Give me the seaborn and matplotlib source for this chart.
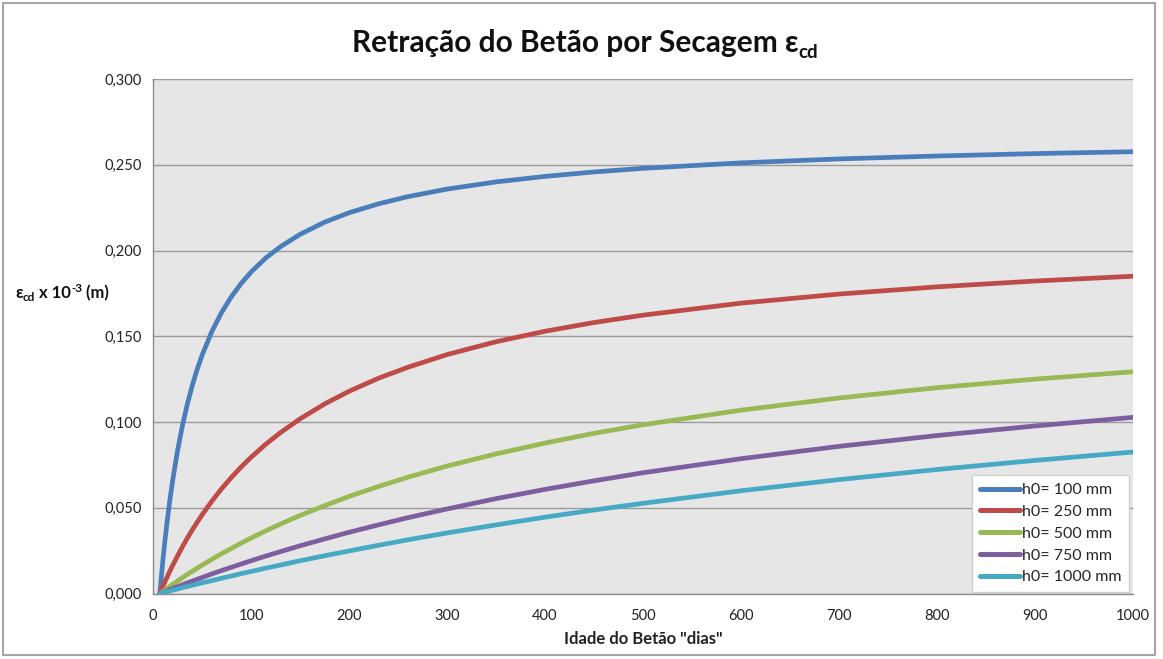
import matplotlib
matplotlib.use("Agg")
import matplotlib.pyplot as plt
import numpy as np
import pandas as pd
import seaborn as sns
from matplotlib.patches import Rectangle
from matplotlib.ticker import FuncFormatter

# ---------------- data ----------------
days = [7, 8, 9, 10, 12, 14, 17, 20, 25, 30, 35, 40, 45, 50, 60, 70, 80, 90,
        100, 115, 130, 150, 175, 200, 230, 260, 300, 350, 400, 450, 500, 600,
        700, 800, 900, 1000]
h0_100 = [0.0, 0.0065, 0.0128, 0.0187, 0.0298, 0.0399, 0.0536, 0.0657, 0.0832,
          0.0978, 0.1104, 0.1211, 0.1306, 0.1388, 0.1527, 0.1639, 0.1731,
          0.1808, 0.1874, 0.1956, 0.2022, 0.2094, 0.2165, 0.2220, 0.2272,
          0.2314, 0.2358, 0.2400, 0.2432, 0.2458, 0.2479, 0.2511, 0.2534,
          0.2551, 0.2565, 0.2576]
h0_250 = [0.0, 0.0013, 0.0027, 0.0040, 0.0066, 0.0091, 0.0128, 0.0163, 0.0219,
          0.0272, 0.0323, 0.0370, 0.0415, 0.0458, 0.0538, 0.0611, 0.0677,
          0.0738, 0.0794, 0.0870, 0.0938, 0.1018, 0.1105, 0.1179, 0.1255,
          0.1319, 0.1393, 0.1468, 0.1529, 0.1580, 0.1623, 0.1693, 0.1746,
          0.1788, 0.1822, 0.1850]
h0_500 = [0.0, 0.0004, 0.0008, 0.0012, 0.0021, 0.0029, 0.0041, 0.0053, 0.0073,
          0.0092, 0.0111, 0.0129, 0.0147, 0.0165, 0.0199, 0.0232, 0.0263,
          0.0294, 0.0323, 0.0365, 0.0405, 0.0455, 0.0512, 0.0566, 0.0624,
          0.0678, 0.0743, 0.0814, 0.0877, 0.0934, 0.0984, 0.1069, 0.1140,
          0.1200, 0.1250, 0.1293]
h0_750 = [0.0, 0.0002, 0.0005, 0.0007, 0.0011, 0.0016, 0.0023, 0.0029, 0.0040,
          0.0051, 0.0062, 0.0072, 0.0083, 0.0093, 0.0114, 0.0134, 0.0153,
          0.0172, 0.0191, 0.0218, 0.0244, 0.0278, 0.0318, 0.0357, 0.0400,
          0.0442, 0.0493, 0.0553, 0.0607, 0.0657, 0.0704, 0.0786, 0.0858,
          0.0921, 0.0977, 0.1027]
h0_1000 = [0.0, 0.0001, 0.0003, 0.0004, 0.0007, 0.0010, 0.0015, 0.0019, 0.0026,
           0.0034, 0.0041, 0.0048, 0.0055, 0.0062, 0.0075, 0.0089, 0.0102,
           0.0116, 0.0128, 0.0148, 0.0166, 0.0191, 0.0220, 0.0248, 0.0281,
           0.0313, 0.0353, 0.0400, 0.0445, 0.0487, 0.0526, 0.0599, 0.0664,
           0.0723, 0.0776, 0.0825]
series_labels = ["h0= 100 mm", "h0= 250 mm", "h0= 500 mm", "h0= 750 mm",
                 "h0= 1000 mm"]
x_ticks = [0, 100, 200, 300, 400, 500, 600, 700, 800, 900, 1000]
y_ticks = [0.0, 0.05, 0.10, 0.15, 0.20, 0.25, 0.30]

title_main = "Retração do Betão por Secagem ε"
title_sub = "cd"
xlabel = 'Idade do Betão "dias"'

colors = ["#4A7EBB", "#BE4B48", "#98B954", "#7D5FA0", "#46AAC5"]

# ---------------- styling ----------------
sns.set_style("white")
plt.rcParams["font.family"] = ["Lato", "DejaVu Sans"]

W, H = 1163, 659
fig = plt.figure(figsize=(W / 100, H / 100), dpi=100)
fig.patch.set_facecolor("white")

ax_l, ax_r, ax_t, ax_b = 153, 1133, 79, 593.5
ax = fig.add_axes([ax_l / W, 1 - ax_b / H, (ax_r - ax_l) / W, (ax_b - ax_t) / H])
ax.set_facecolor("#E6E6E6")

rows = []
for lab, vals in zip(series_labels, [h0_100, h0_250, h0_500, h0_750, h0_1000]):
    for d, v in zip(days, vals):
        rows.append({"dia": d, "valor": v, "serie": lab})
df = pd.DataFrame(rows)

sns.lineplot(data=df, x="dia", y="valor", hue="serie", hue_order=series_labels,
             palette=colors, linewidth=3.4, ax=ax, legend=True)
for ln in ax.get_lines():
    ln.set_solid_joinstyle("round")

ax.set_xlim(0, 1000)
ax.set_ylim(0, 0.3)
ax.set_xticks(x_ticks)
ax.set_yticks(y_ticks)
ax.yaxis.set_major_formatter(FuncFormatter(lambda v, p: f"{v:.3f}".replace(".", ",")))
ax.xaxis.set_major_formatter(FuncFormatter(lambda v, p: f"{int(round(v))}"))
ax.grid(axis="y", color="#9A9A9A", linewidth=1.0)
ax.grid(axis="x", visible=False)
ax.set_axisbelow(True)
for s in ["top", "right"]:
    ax.spines[s].set_visible(False)
for s in ["left", "bottom"]:
    ax.spines[s].set_color("#8C8C8C")
    ax.spines[s].set_linewidth(1.0)
ax.tick_params(axis="both", labelsize=10.5, colors="#8C8C8C", labelcolor="#222222",
               length=4, width=1, direction="out")
ax.tick_params(axis="x", pad=7)
ax.tick_params(axis="y", pad=4)
ax.set_xlabel(xlabel, fontsize=12, fontweight="bold", color="#222222", labelpad=6)
ax.set_ylabel("")

leg = ax.legend(loc="lower right", bbox_to_anchor=(0.996, 0.002), borderaxespad=0,
                frameon=True, fancybox=False, facecolor="white", edgecolor="#D0D0D0",
                framealpha=1, fontsize=11.5, handlelength=2.5, handletextpad=0.12,
                labelspacing=0.48, borderpad=0.5)
for line in leg.get_lines():
    line.set_linewidth(3.6)
    line.set_solid_capstyle("round")

# ---------------- rich texts (title and y label) ----------------
fig.canvas.draw()
renderer = fig.canvas.get_renderer()


def rich(pieces, x_px, y_px, center=False):
    widths = []
    for s, size, dy in pieces:
        t = fig.text(0, 0, s, fontsize=size, fontweight="bold")
        widths.append(t.get_window_extent(renderer).width)
        t.remove()
    total = sum(widths)
    x = x_px - total / 2 if center else x_px
    for (s, size, dy), w in zip(pieces, widths):
        fig.text(x / W, 1 - (y_px + dy) / H, s, fontsize=size, fontweight="bold",
                 color="#111111", va="baseline", ha="left")
        x += w


rich([(title_main, 21.5, 0), (title_sub, 13.5, 6)], 585, 52, center=True)
rich([("ε", 12, 0), ("cd", 8.5, 3), (" x 10", 12, 0), ("-3", 8.5, -6), (" (m)", 12, 0)],
     15, 298)

fig.add_artist(Rectangle((3 / W, 1 - 655 / H), 1152 / W, 652 / H,
                         transform=fig.transFigure, fill=False,
                         edgecolor="#A6A6A6", linewidth=1.5))

fig.savefig("out.png", dpi=100)
